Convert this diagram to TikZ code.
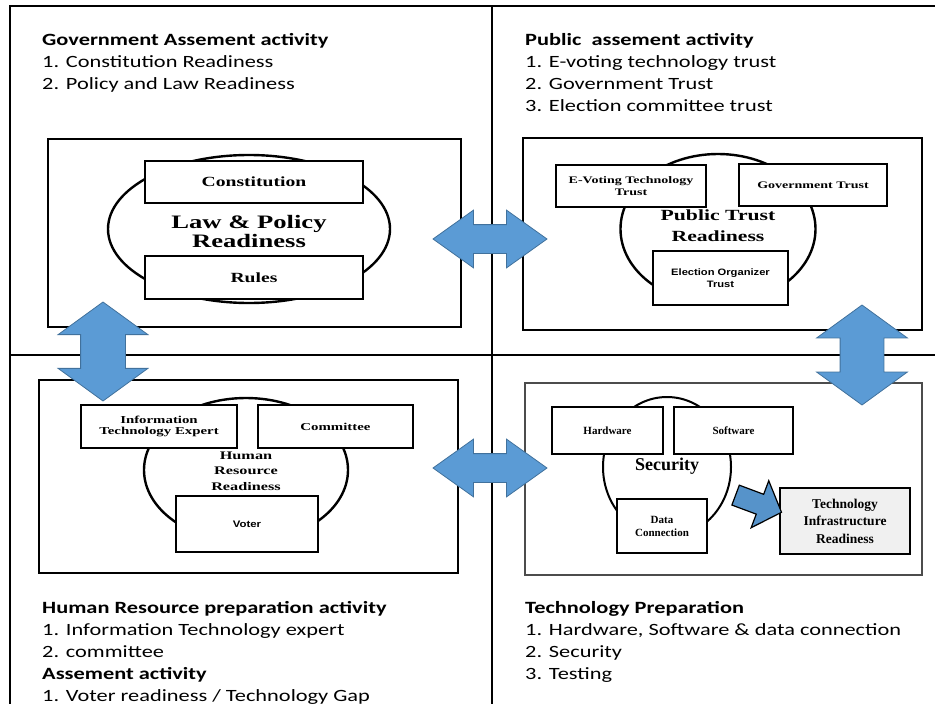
\documentclass[tikz,border=0pt]{standalone}
\usepackage{fontspec}
\setmainfont{Carlito}
\newfontfamily\notefont[FakeStretch=1.3]{Carlito}
\newfontfamily\timesbx[FakeStretch=1.4]{Liberation Serif}
\newfontfamily\timesup{Liberation Serif}
\newfontfamily\arialbx[FakeStretch=1.2]{Liberation Sans}
\usetikzlibrary{positioning,shapes.geometric,shapes.arrows}
\definecolor{arrowBlue}{HTML}{5B9BD5}
\definecolor{arrowEdge}{HTML}{41719C}

\begin{document}
\begin{tikzpicture}[x=1pt,y=-1pt,
    panel/.style={draw=black, line width=1.2pt, inner sep=0pt},
    ring/.style={draw=black, ellipse, line width=2.4pt, inner sep=0pt},
    itembox/.style={draw=black, fill=white, line width=2.4pt, inner sep=0pt, align=center},
    serifbx/.style={font=\timesbx\bfseries\fontsize{#1}{#1}\selectfont},
    hubtext/.style={align=center, inner sep=0pt},
    note/.style={anchor=north west, align=left, inner sep=0pt,
                 font=\notefont\fontsize{17.2}{22}\selectfont},
    bigarrow/.style={double arrow, fill=arrowBlue, draw=arrowEdge, line width=0.8pt, inner xsep=0pt}
  ]
  \useasboundingbox (0,0) rectangle (935,704);

  % quadrant frame
  \draw[line width=1.6pt] (10,704) -- (10,6) -- (935,6);
  \draw[line width=1.6pt] (492,6) -- (492,704);
  \draw[line width=1.6pt] (10,355) -- (935,355);

  % activity notes
  \node[note] (govnote) at (42,33.5) {\textbf{Government Assement activity}\\1. Constitution Readiness\\2. Policy and Law Readiness};
  \node[note] (pubnote) at (525,33.5) {\textbf{Public\ \ assement activity}\\1. E-voting technology trust\\2. Government Trust\\3. Election committee trust};
  \node[note] (hrnote) at (42,601.5) {\textbf{Human Resource preparation activity}\\1. Information Technology expert\\2. committee\\\textbf{Assement activity}\\1. Voter readiness / Technology Gap};
  \node[note] (technote) at (525,601.5) {\textbf{Technology Preparation}\\1. Hardware, Software \& data connection\\2. Security\\3. Testing};

  % law & policy readiness
  \node[panel, minimum width=413pt, minimum height=188pt] (lawpanel) at (254.5,233) {};
  \node[ring, minimum width=282pt, minimum height=148pt] (lawring) at (249,229) {};
  \node[itembox, serifbx=14, minimum width=218pt, minimum height=42pt] (constitution) at (254,182) {Constitution};
  \node[itembox, serifbx=14, minimum width=218pt, minimum height=43pt] (rules) at (254,277.5) {Rules};
  \node[hubtext, serifbx=19] (lawhub) at (249,231) {Law \& Policy\\Readiness};

  % public trust readiness
  \node[panel, minimum width=399pt, minimum height=192pt] (trustpanel) at (722.5,234) {};
  \node[ring, minimum width=195pt, minimum height=150pt] (trustring) at (718,229) {};
  \node[itembox, font=\timesbx\bfseries\fontsize{10}{12}\selectfont, minimum width=150pt, minimum height=42pt] (evoting) at (631,186) {E-Voting Technology\\Trust};
  \node[itembox, serifbx=10, minimum width=148pt, minimum height=42pt] (govtrust) at (813,185) {Government Trust};
  \node[itembox, font=\arialbx\bfseries\fontsize{9.3}{12.5}\selectfont, minimum width=135pt, minimum height=54pt] (organizer) at (720.5,278) {Election Organizer\\Trust};
  \node[hubtext, font=\timesbx\bfseries\fontsize{15.5}{20.5}\selectfont] (trusthub) at (718,225.5) {Public Trust\\Readiness};

  % human resource readiness
  \node[panel, minimum width=419pt, minimum height=193pt] (hrpanel) at (248.5,476.5) {};
  \node[ring, minimum width=204pt, minimum height=144pt] (hrring) at (246,470) {};
  \node[itembox, serifbx=10.6, minimum width=156pt, minimum height=43pt] (itexpert) at (159,426.5) {Information\\Technology Expert};
  \node[itembox, serifbx=10.6, minimum width=155pt, minimum height=43pt] (committee) at (335.5,426.5) {Committee};
  \node[itembox, font=\arialbx\bfseries\fontsize{9.5}{11}\selectfont, minimum width=142pt, minimum height=56pt] (voter) at (247,524) {Voter};
  \node[hubtext, font=\timesbx\bfseries\fontsize{11.6}{15.5}\selectfont] (hrhub) at (246,471) {Human\\Resource\\Readiness};

  % technology infrastructure readiness
  \node[panel, draw=black!70, minimum width=397pt, minimum height=192pt] (techpanel) at (723.5,479) {};
  \node[ring, line width=2pt, minimum width=128pt, minimum height=140pt] (secring) at (667,467) {};
  \node[itembox, line width=1.6pt, font=\timesup\bfseries\fontsize{11}{13}\selectfont, minimum width=111pt, minimum height=47pt] (hardware) at (607.5,430.5) {Hardware};
  \node[itembox, line width=1.6pt, font=\timesup\bfseries\fontsize{11}{13}\selectfont, minimum width=119pt, minimum height=47pt] (software) at (733.5,430.5) {Software};
  \node[itembox, line width=1.6pt, font=\timesup\bfseries\fontsize{11}{13}\selectfont, minimum width=90pt, minimum height=54pt] (dataconn) at (662,526) {Data\\Connection};
  \node[hubtext, font=\timesup\bfseries\fontsize{18}{18}\selectfont] (sechub) at (667,466) {Security};
  \node[itembox, fill=black!6, line width=1.6pt, font=\timesup\bfseries\fontsize{13.5}{17.5}\selectfont, minimum width=130pt, minimum height=66pt] (infra) at (845,521) {Technology\\Infrastructure\\Readiness};
  \node[single arrow, fill=arrowBlue!95!black, draw=black, line width=1.2pt, inner xsep=0pt, inner ysep=10pt,
        minimum height=49pt, single arrow head extend=14.5pt,
        single arrow tip angle=95, rotate=-20.5] (secarrow) at (754,502) {};

  % links between readiness areas
  \node[bigarrow, inner ysep=14pt, minimum height=114pt,
        double arrow head extend=14.5pt, double arrow tip angle=71] (lawtrust) at (490,239) {};
  \node[bigarrow, inner ysep=14pt, minimum height=114pt,
        double arrow head extend=14.5pt, double arrow tip angle=71] (hrtech) at (490,468) {};
  \node[bigarrow, rotate=90, inner ysep=22pt, minimum height=99pt,
        double arrow head extend=22.5pt, double arrow tip angle=108] (lawhr) at (103,351.5) {};
  \node[bigarrow, rotate=90, inner ysep=21.5pt, minimum height=100pt,
        double arrow head extend=23.5pt, double arrow tip angle=108] (trusttech) at (862,355) {};
\end{tikzpicture}
\end{document}
